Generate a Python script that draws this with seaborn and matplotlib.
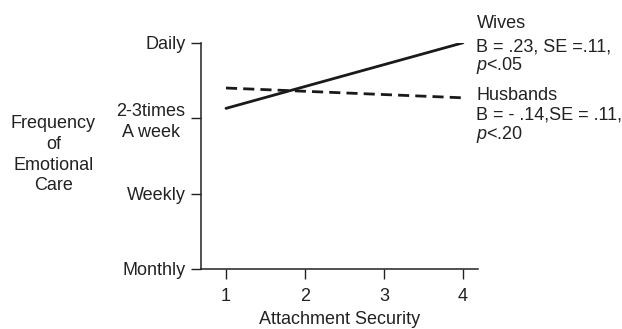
import numpy as np
import pandas as pd
import matplotlib
matplotlib.use("Agg")
import matplotlib.pyplot as plt
import seaborn as sns

# dados
seguranca = [1, 4]
esposas = [3.13, 4.0]
maridos = [3.40, 3.27]
niveis = [1, 2, 3, 4]
rotulos_y = ["Monthly", "Weekly", "2-3times\nA week", "Daily"]
rotulos_x = [1, 2, 3, 4]

df = pd.DataFrame({
    "seguranca": seguranca * 2,
    "freq": esposas + maridos,
    "grupo": ["Wives"] * 2 + ["Husbands"] * 2,
})

sns.set_style("ticks")
plt.rcParams["font.family"] = ["Liberation Sans", "DejaVu Sans"]
plt.rcParams["mathtext.fontset"] = "custom"
plt.rcParams["mathtext.it"] = "Liberation Sans:italic"
plt.rcParams["mathtext.rm"] = "Liberation Sans"

cor = "#222222"
fs = 13

fig = plt.figure(figsize=(6.22, 3.29), dpi=100)
ax = fig.add_axes([0.3227, 0.1824, 0.4458, 0.6876])

sns.lineplot(data=df, x="seguranca", y="freq", style="grupo",
             dashes={"Wives": "", "Husbands": (4, 2.2)},
             color="#1a1a1a", linewidth=2, legend=False, ax=ax)

ax.set_xlim(0.68, 4.19)
ax.set_ylim(1, 4)
ax.set_xticks(rotulos_x)
ax.set_xticklabels([str(v) for v in rotulos_x], fontsize=fs, color=cor)
ax.set_yticks(niveis)
ax.set_yticklabels(rotulos_y, fontsize=fs, color=cor, multialignment="center",
                   linespacing=1.3)
ax.tick_params(length=7, width=1, color=cor)
ax.yaxis.set_tick_params(pad=4)
ax.xaxis.set_tick_params(pad=7)
sns.despine(ax=ax)
for s in ["left", "bottom"]:
    ax.spines[s].set_linewidth(1.1)
    ax.spines[s].set_color(cor)

ax.set_xlabel("Attachment Security", fontsize=fs, color=cor, labelpad=4)
ax.set_ylabel("")
fig.text(0.086, 0.53, "Frequency\nof\nEmotional\nCare", ha="center", va="center",
         fontsize=fs, color=cor, linespacing=1.3)

# anotacoes da direita
notas = ["Wives", "B = .23, SE =.11,", "$p$<.05",
         "Husbands", "B = - .14,SE = .11,", "$p$<.20"]
alturas = [0.928, 0.856, 0.800, 0.711, 0.651, 0.592]
for txt, h in zip(notas, alturas):
    fig.text(0.766, h, txt, fontsize=fs, color=cor, va="center")

plt.savefig("out.png", dpi=100)
